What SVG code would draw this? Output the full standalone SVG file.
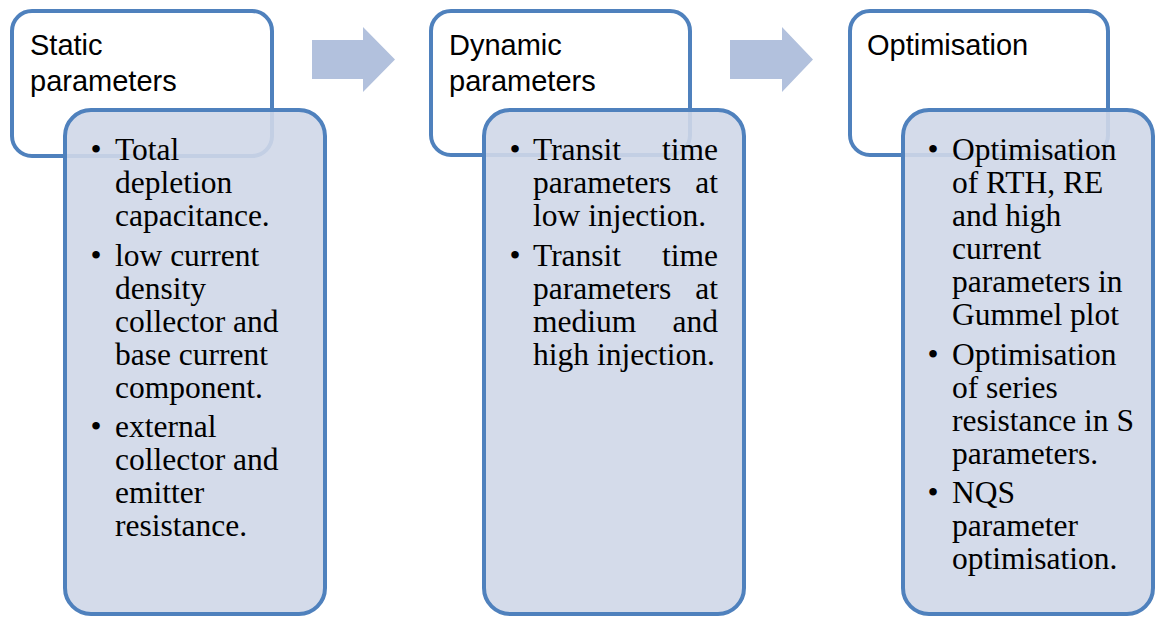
<svg xmlns="http://www.w3.org/2000/svg" width="1155" height="617" viewBox="0 0 1155 617">
  <style>
    .head { fill: #ffffff; stroke: #4f81bd; stroke-width: 4; }
    .body { fill: #cfd7e8; fill-opacity: 0.9; stroke: #4f81bd; stroke-width: 4; }
    .title { font-family: "Liberation Sans", Arial, sans-serif; font-size: 29px; fill: #000000; }
    .item { font-family: "Liberation Serif", "Times New Roman", serif; font-size: 31.5px; fill: #000000; }
    .bullet { font-family: "Liberation Serif", "Times New Roman", serif; font-size: 31.5px; fill: #000000; text-anchor: middle; }
    .r { text-anchor: end; }
    .flow { fill: #b2c1dd; }
  </style>

  <!-- Stage 1: static parameters -->
  <g id="static-title">
    <rect class="head" x="12" y="11" width="260" height="145" rx="20"/>
    <text class="title" x="30" y="55">Static</text>
    <text class="title" x="30" y="91">parameters</text>
  </g>
  <g id="static-details">
    <rect class="body" x="65" y="110" width="260" height="504" rx="26"/>
    <text class="bullet" x="96" y="160">•</text>
    <text class="item" x="115" y="160">Total</text>
    <text class="item" x="115" y="193">depletion</text>
    <text class="item" x="115" y="226">capacitance.</text>
    <text class="bullet" x="96" y="265.5">•</text>
    <text class="item" x="115" y="265.5">low current</text>
    <text class="item" x="115" y="298.5">density</text>
    <text class="item" x="115" y="331.5">collector and</text>
    <text class="item" x="115" y="364.5">base current</text>
    <text class="item" x="115" y="397.5">component.</text>
    <text class="bullet" x="96" y="437">•</text>
    <text class="item" x="115" y="437">external</text>
    <text class="item" x="115" y="470">collector and</text>
    <text class="item" x="115" y="503">emitter</text>
    <text class="item" x="115" y="536">resistance.</text>
  </g>

  <!-- Stage 2: dynamic parameters -->
  <g id="dynamic-title">
    <rect class="head" x="431" y="11" width="259" height="144" rx="20"/>
    <text class="title" x="449" y="55">Dynamic</text>
    <text class="title" x="449" y="91">parameters</text>
  </g>
  <g id="dynamic-details">
    <rect class="body" x="484" y="110" width="260" height="504" rx="26"/>
    <text class="bullet" x="515" y="160">•</text>
    <text class="item" x="533" y="160">Transit</text>
    <text class="item r" x="718" y="160">time</text>
    <text class="item" x="533" y="193">parameters</text>
    <text class="item r" x="718" y="193">at</text>
    <text class="item" x="533" y="226">low injection.</text>
    <text class="bullet" x="515" y="265.5">•</text>
    <text class="item" x="533" y="265.5">Transit</text>
    <text class="item r" x="718" y="265.5">time</text>
    <text class="item" x="533" y="298.5">parameters</text>
    <text class="item r" x="718" y="298.5">at</text>
    <text class="item" x="533" y="331.5">medium</text>
    <text class="item r" x="718" y="331.5">and</text>
    <text class="item" x="533" y="364.5">high injection.</text>
  </g>

  <!-- Stage 3: optimisation -->
  <g id="optimisation-title">
    <rect class="head" x="850" y="11" width="258" height="144" rx="20"/>
    <text class="title" x="867" y="55">Optimisation</text>
  </g>
  <g id="optimisation-details">
    <rect class="body" x="903" y="110" width="250" height="504" rx="26"/>
    <text class="bullet" x="933" y="160">•</text>
    <text class="item" x="952" y="160">Optimisation</text>
    <text class="item" x="952" y="193">of RTH, RE</text>
    <text class="item" x="952" y="226">and high</text>
    <text class="item" x="952" y="259">current</text>
    <text class="item" x="952" y="292">parameters in</text>
    <text class="item" x="952" y="325">Gummel plot</text>
    <text class="bullet" x="933" y="364.5">•</text>
    <text class="item" x="952" y="364.5">Optimisation</text>
    <text class="item" x="952" y="397.5">of series</text>
    <text class="item" x="952" y="430.5">resistance in S</text>
    <text class="item" x="952" y="463.5">parameters.</text>
    <text class="bullet" x="933" y="503">•</text>
    <text class="item" x="952" y="503">NQS</text>
    <text class="item" x="952" y="536">parameter</text>
    <text class="item" x="952" y="569">optimisation.</text>
  </g>

  <!-- Block arrows between stages -->
  <g id="connectors">
    <polygon class="flow" points="312,40 363,40 363,27 395,59.5 363,92 363,79 312,79"/>
    <polygon class="flow" points="730,40 782,40 782,27 813,59.5 782,92 782,79 730,79"/>
  </g>
</svg>
